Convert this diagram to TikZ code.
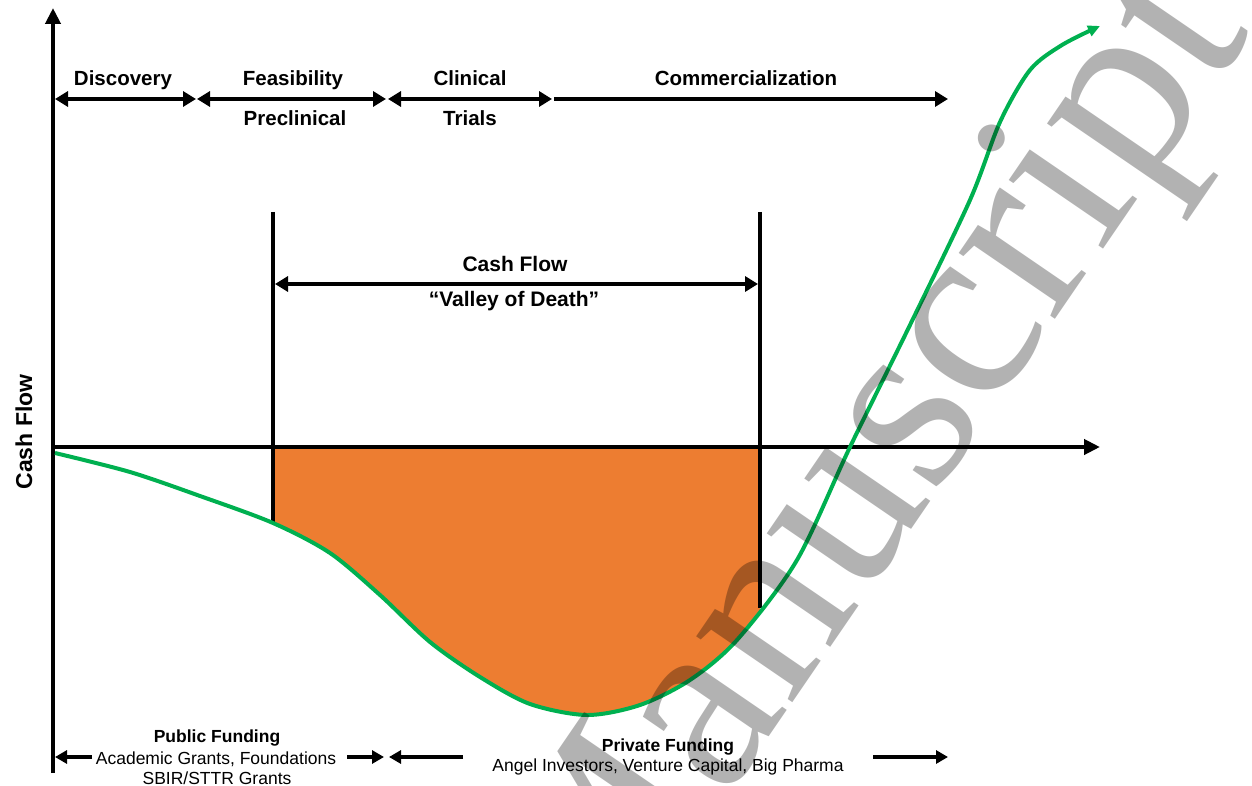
\documentclass[tikz,border=0pt]{standalone}
\usepackage{fontspec}
\setmainfont{Liberation Sans}
\newfontfamily\wmfont{Liberation Serif}
\usetikzlibrary{arrows.meta}
\definecolor{vgreen}{HTML}{00B050}
\definecolor{vorange}{HTML}{ED7D31}
\tikzset{
  bigtip/.tip={Triangle[length=13pt,width=15pt]},
  axtip/.tip={Triangle[length=16pt,width=15pt]},
  smalltip/.tip={Triangle[length=12pt,width=13pt]},
  greentip/.tip={Triangle[length=12pt,width=11pt]},
}
\begin{document}
\begin{tikzpicture}[x=1pt,y=-1pt,
  blk/.style={line width=4pt,black},
  thin blk/.style={line width=3.5pt,black},
  lbl/.style={font=\bfseries\fontsize{20.5}{24}\selectfont,inner sep=0pt},
  midlbl/.style={font=\bfseries\fontsize{21}{25}\selectfont,inner sep=0pt},
  fundhead/.style={font=\bfseries\fontsize{17.5}{20}\selectfont,inner sep=0pt},
  fundtxt/.style={font=\fontsize{17.5}{20}\selectfont,inner sep=0pt},
  curvestyle/.style={line width=4pt,vgreen},
]
\useasboundingbox (0,0) rectangle (1252,786);

% orange valley area
\begin{scope}
\clip plot[smooth,tension=0.5] coordinates {(55,453) (130,472) (200,496) (273,523) (330,553) (380,595) (430,642) (480,677) (530,704) (587,715) (640,705) (690,680) (737,640) (797,560) (850,447) (910,325) (970,200) (1000,122) (1030,70) (1062,45) (1100,26)} -- (1100,0) -- (0,0) -- cycle;
\fill[vorange] (273,447) rectangle (760,730);
\end{scope}

% axes
\coordinate (ybot) at (53,773);
\coordinate (ytop) at (53,8);
\coordinate (xstart) at (51,447);
\coordinate (xend) at (1100,447);
\draw[blk,-{axtip}] (ybot) -- (ytop);
\draw[blk,-{axtip}] (xstart) -- (xend);

% stage arrows
\coordinate (s0) at (55,99);
\coordinate (s1) at (196,99);
\coordinate (s1b) at (197,99);
\coordinate (s2) at (386,99);
\coordinate (s2b) at (388,99);
\coordinate (s3) at (552,99);
\coordinate (s3b) at (554,99);
\coordinate (s4) at (948,99);
\draw[blk,{bigtip}-{bigtip}] (s0) -- (s1);
\draw[blk,{bigtip}-{bigtip}] (s1b) -- (s2);
\draw[blk,{bigtip}-{bigtip}] (s2b) -- (s3);
\draw[blk,-{bigtip}] (s3b) -- (s4);

\node[lbl,anchor=base] (disc) at (123,86) {Discovery};
\node[lbl,anchor=base] (feas) at (293,86) {Feasibility};
\node[lbl,anchor=base] (precl) at (295,126) {Preclinical};
\node[lbl,anchor=base] (clin) at (470,86) {Clinical};
\node[lbl,anchor=base] (trials) at (470,126) {Trials};
\node[lbl,anchor=base] (comm) at (746,86) {Commercialization};

% valley of death markers
\coordinate (vlt) at (273,212);
\coordinate (vlb) at (273,523);
\coordinate (vrt) at (760,212);
\coordinate (vrb) at (760,608);
\draw[blk] (vlt) -- (vlb);
\draw[blk] (vrt) -- (vrb);
\coordinate (cfl) at (275,284);
\coordinate (cfr) at (758,284);
\draw[blk,{bigtip}-{bigtip}] (cfl) -- (cfr);
\node[midlbl,anchor=base] (cf) at (515,271) {Cash Flow};
\node[midlbl,anchor=base] (vod) at (514,306) {“Valley of Death”};

% y-axis label
\node[font=\bfseries\fontsize{23}{27}\selectfont,rotate=90,inner sep=0pt] (ylab) at (24,432) {Cash Flow};

% green curve
\draw[curvestyle,-{greentip}] plot[smooth,tension=0.5] coordinates {(55,453) (130,472) (200,496) (273,523) (330,553) (380,595) (430,642) (480,677) (530,704) (587,715) (640,705) (690,680) (737,640) (797,560) (850,447) (910,325) (970,200) (1000,122) (1030,70) (1062,45) (1100,26)};

% funding
\node[fundhead,anchor=base] (pubh) at (217,742) {Public Funding};
\node[fundtxt,anchor=base] (pub1) at (216,764) {Academic Grants, Foundations};
\node[fundtxt,anchor=base] (pub2) at (217,784) {SBIR/STTR Grants};
\node[fundhead,anchor=base] (privh) at (668,751) {Private Funding};
\node[fundtxt,anchor=base] (priv1) at (668,771) {Angel Investors, Venture Capital, Big Pharma};

\coordinate (b0) at (55,757);
\coordinate (b1) at (92,757);
\coordinate (b2) at (347,757);
\coordinate (b3) at (384,757);
\coordinate (b4) at (389,757);
\coordinate (b5) at (463,757);
\coordinate (b6) at (873,757);
\coordinate (b7) at (948,757);
\draw[thin blk,-{smalltip}] (b1) -- (b0);
\draw[thin blk,-{smalltip}] (b2) -- (b3);
\draw[thin blk,-{smalltip}] (b5) -- (b4);
\draw[thin blk,-{smalltip}] (b6) -- (b7);

% watermark
\node[rotate=55.6,text=black,text opacity=0.3,inner sep=0pt,font=\wmfont\fontsize{254}{254}\selectfont] (wm) at (878,477) {Manuscript};
\end{tikzpicture}
\end{document}
